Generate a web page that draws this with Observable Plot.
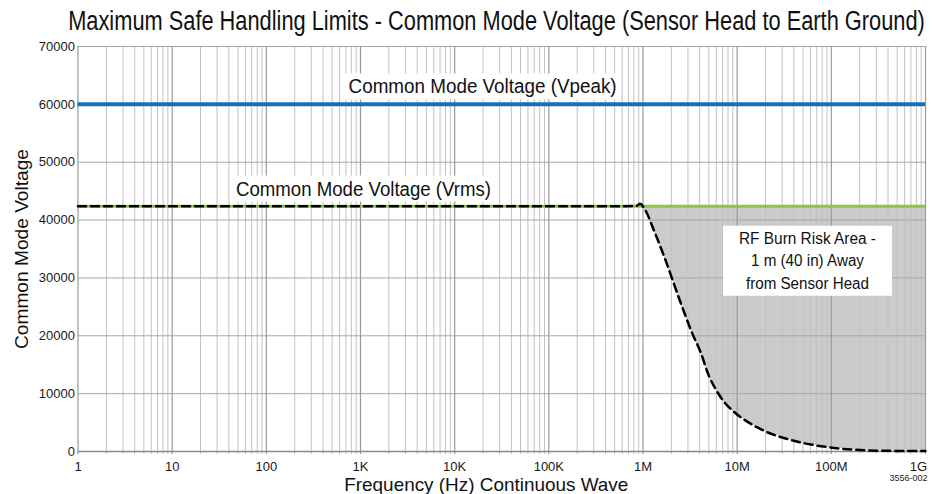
<!DOCTYPE html>
<html><head><meta charset="utf-8">
<script src="https://cdn.jsdelivr.net/npm/d3@7"></script>
<script src="https://cdn.jsdelivr.net/npm/@observablehq/plot@0.6"></script>
<style>
html,body{margin:0;padding:0;background:#fff;}
body{width:932px;height:494px;overflow:hidden;}
#chart svg{display:block;}
</style></head><body><div id="chart"></div>
<script>
const FONT = "'Liberation Sans', Arial, Helvetica, sans-serif";
const titleText = "Maximum Safe Handling Limits - Common Mode Voltage (Sensor Head to Earth Ground)";
const xAxisTitle = "Frequency (Hz) Continuous Wave";
const yAxisTitle = "Common Mode Voltage";
const figureCode = "3556-002";
const xTickValues = [1, 10, 100, 1e3, 1e4, 1e5, 1e6, 1e7, 1e8, 1e9];
const xTickLabels = ["1", "10", "100", "1K", "10K", "100K", "1M", "10M", "100M", "1G"];
const yTickValues = [0, 10000, 20000, 30000, 40000, 50000, 60000, 70000];
const vpeakLevel = 60000;
const vrmsLevel = 42400;
const seriesLabels = ["Common Mode Voltage (Vpeak)", "Common Mode Voltage (Vrms)"];
const areaLabelLines = ["RF Burn Risk Area -", "1 m (40 in) Away", "from Sensor Head"];
// dashed derating curve (frequency Hz, volts)
const curveFreq = [1, 1e4, 5e5, 8.5e5, 9.3e5, 1.05e6, 1.3e6, 1.66e6, 2.5e6, 3.3e6, 4.1e6, 5e6, 6.1e6, 7.5e6, 9.2e6, 1.76e7, 4.0e7, 9.7e7, 2.4e8, 5e8, 1e9];
const curveVolt = [42400, 42400, 42400, 42450, 42800, 41800, 38300, 33900, 25800, 20600, 17100, 13100, 10400, 8300, 6900, 3900, 1850, 700, 200, 100, 80];

const curveData = curveFreq.map((f, i) => ({f, v: curveVolt[i]}));
const riskData = curveData.filter(d => d.f >= 9.3e5);
const minorGrid = xTickValues.slice(0, -1).flatMap(d => [2,3,4,5,6,7,8,9].map(m => m * d));
const xFmt = d => xTickLabels[Math.round(Math.log10(d))];

const plot = Plot.plot({
  width: 932, height: 458,
  marginTop: 10, marginBottom: 43, marginLeft: 77.5, marginRight: 7,
  style: {fontFamily: FONT, fontSize: "13px", color: "#1a1a1a", background: "#fff", overflow: "visible"},
  x: {type: "log", domain: [1, 1e9]},
  y: {domain: [0, 70000]},
  marks: [
    Plot.areaY(riskData, {x: "f", y1: "v", y2: vrmsLevel, fill: "#cbcbcb", curve: "monotone-x"}),
    Plot.ruleX(minorGrid, {stroke: "#c2c2c2", strokeWidth: 1, insetBottom: -3}),
    Plot.ruleY(yTickValues, {stroke: "#a8a8a8", strokeWidth: 1}),
    Plot.ruleX(xTickValues, {stroke: "#9a9a9a", strokeWidth: 1.2, insetBottom: -3}),
    Plot.ruleY([0], {stroke: "#8a8a8a", strokeWidth: 1.5}),
    Plot.ruleY([vpeakLevel], {stroke: "#1570b8", strokeWidth: 4}),
    Plot.ruleY([vrmsLevel], {stroke: "#8dc63f", strokeWidth: 3}),
    Plot.line(curveData, {x: "f", y: "v", stroke: "#000", strokeWidth: 2.5, strokeDasharray: "8,5", curve: "monotone-x"}),
    Plot.axisX(xTickValues, {tickFormat: xFmt, tickSize: 0, tickPadding: 10, label: null, fontSize: 13}),
    Plot.axisY(yTickValues, {tickFormat: d => String(d), tickSize: 0, tickPadding: 3, label: null, fontSize: 13}),
    Plot.text([seriesLabels[0]], {x: 19800, y: 63000, text: d => d, fontSize: 20, fill: "#111"}),
    Plot.text([seriesLabels[1]], {x: 1076, y: 45350, text: d => d, fontSize: 20, fill: "#111"}),
    ...areaLabelLines.map((t, i) => Plot.text([t], {x: 5.58e7, y: 32900, dy: (i - 1) * 22.5, text: d => d, fontSize: 16, fill: "#111"})),
    Plot.text([yAxisTitle], {frameAnchor: "left", textAnchor: "middle", lineAnchor: "middle", rotate: -90, dx: -56.5, text: d => d, fontSize: 19, fill: "#111"}),
    Plot.text([xAxisTitle], {frameAnchor: "bottom", textAnchor: "middle", lineAnchor: "middle", dx: -15.5, dy: 33, text: d => d, fontSize: 19, fill: "#111"}),
    Plot.text([figureCode], {frameAnchor: "bottom-right", textAnchor: "end", lineAnchor: "middle", dx: 2, dy: 27, text: d => d, fontSize: 9, fill: "#222"})
  ]
});

const chart = document.getElementById("chart");
const tsvg = d3.select(chart).append("svg").attr("width", 932).attr("height", 36);
const title = tsvg.append("text").attr("x", 0).attr("y", 0).attr("text-anchor", "middle")
  .attr("font-family", FONT).attr("font-size", 27).attr("fill", "#111").text(titleText);
chart.appendChild(plot);
// condense the title horizontally to the reference width
const natural = title.node().getComputedTextLength();
title.attr("transform", `translate(496.5,29.5) scale(${Math.min(1, 857 / natural)},1)`);

const findText = s => Array.from(plot.querySelectorAll("text")).filter(t => t.textContent === s);
function fit(s, w) {
  findText(s).forEach(el => {
    el.setAttribute("textLength", w);
    el.setAttribute("lengthAdjust", "spacingAndGlyphs");
  });
}
fit(seriesLabels[0], 268);
fit(seriesLabels[1], 255);
fit(yAxisTitle, 200);
fit(xAxisTitle, 284);
[137, 113, 123].forEach((w, i) => fit(areaLabelLines[i], w));
findText("1G").forEach(el => el.setAttribute("dx", -7));

function box(strs, padX, padY) {
  const els = strs.flatMap(findText);
  if (!els.length) return;
  const sr = plot.getBoundingClientRect();
  let x0 = Infinity, y0 = Infinity, x1 = -Infinity, y1 = -Infinity;
  els.forEach(t => {
    const r = t.getBoundingClientRect();
    x0 = Math.min(x0, r.left - sr.left); y0 = Math.min(y0, r.top - sr.top);
    x1 = Math.max(x1, r.right - sr.left); y1 = Math.max(y1, r.bottom - sr.top);
  });
  const rect = document.createElementNS("http://www.w3.org/2000/svg", "rect");
  rect.setAttribute("x", x0 - padX); rect.setAttribute("y", y0 - padY);
  rect.setAttribute("width", x1 - x0 + 2 * padX); rect.setAttribute("height", y1 - y0 + 2 * padY);
  rect.setAttribute("fill", "#fff");
  const g = els[0].closest("svg > g") || els[0].parentNode;
  g.parentNode.insertBefore(rect, g);
}
box([seriesLabels[0]], 4, 2);
box([seriesLabels[1]], 6, 2);
box(areaLabelLines, 16, 4);
</script></body></html>
